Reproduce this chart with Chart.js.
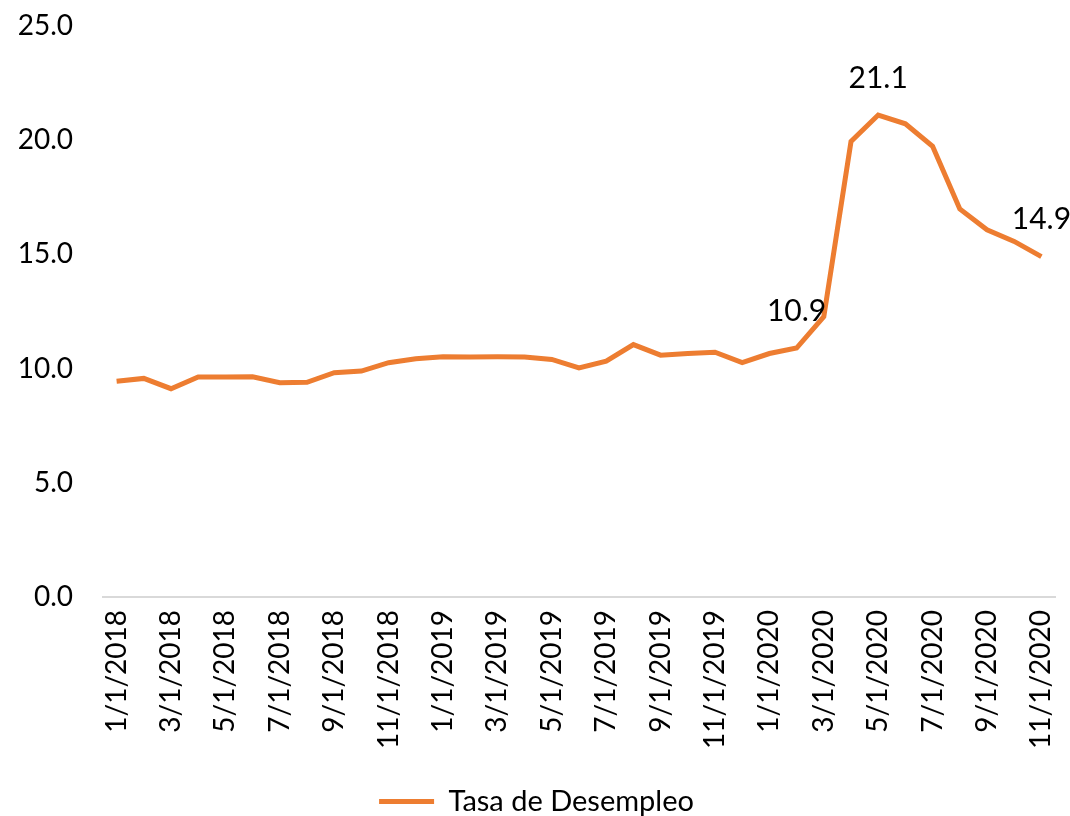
<!DOCTYPE html>
<html>
<head>
<meta charset="utf-8">
<script src="https://cdn.jsdelivr.net/npm/chart.js@4.4.0/dist/chart.umd.min.js"></script>
<style>
  html, body { margin: 0; padding: 0; background: #fff; }
  #wrap { width: 1070px; height: 816px; position: relative; }
</style>
</head>
<body>
<div id="wrap"><canvas id="chart"></canvas></div>
<script>
// monthly dates, 1/1/2018 .. 11/1/2020
const months = [
  '1/1/2018', '2/1/2018', '3/1/2018', '4/1/2018', '5/1/2018', '6/1/2018',
  '7/1/2018', '8/1/2018', '9/1/2018', '10/1/2018', '11/1/2018', '12/1/2018',
  '1/1/2019', '2/1/2019', '3/1/2019', '4/1/2019', '5/1/2019', '6/1/2019',
  '7/1/2019', '8/1/2019', '9/1/2019', '10/1/2019', '11/1/2019', '12/1/2019',
  '1/1/2020', '2/1/2020', '3/1/2020', '4/1/2020', '5/1/2020', '6/1/2020',
  '7/1/2020', '8/1/2020', '9/1/2020', '10/1/2020', '11/1/2020'
];
const desempleo = [
  9.45, 9.57, 9.12, 9.63, 9.63, 9.64, 9.38, 9.40, 9.82, 9.89, 10.26, 10.43,
  10.52, 10.51, 10.52, 10.51, 10.40, 10.03, 10.33, 11.05, 10.59, 10.66, 10.72, 10.26,
  10.66, 10.9, 12.27, 19.94, 21.1, 20.72, 19.73, 16.99, 16.08, 15.57, 14.9
];
const labeledPoints = [25, 28, 34];
const yTicks = [0, 5, 10, 15, 20, 25];

const FONT = 'Lato, "Noto Sans", sans-serif';
const ORANGE = '#ED7D31';

const pointLabels = {
  id: 'pointLabels',
  afterDatasetsDraw(chart) {
    const ctx = chart.ctx;
    const meta = chart.getDatasetMeta(0);
    ctx.save();
    ctx.font = '30px ' + FONT;
    ctx.fillStyle = '#000';
    ctx.textAlign = 'center';
    ctx.textBaseline = 'middle';
    labeledPoints.forEach(i => {
      const pt = meta.data[i];
      ctx.fillText(desempleo[i].toFixed(1), pt.x, pt.y - 37);
    });
    ctx.restore();
  }
};

new Chart(document.getElementById('chart'), {
  type: 'line',
  data: {
    labels: months,
    datasets: [{
      label: 'Tasa de Desempleo',
      data: desempleo,
      borderColor: ORANGE,
      backgroundColor: ORANGE,
      borderWidth: 5,
      pointRadius: 0,
      tension: 0,
      fill: false
    }]
  },
  options: {
    responsive: true,
    maintainAspectRatio: false,
    animation: false,
    layout: { padding: { top: 26, right: 15, left: 18, bottom: -10 } },
    plugins: {
      tooltip: { enabled: false },
      legend: {
        position: 'bottom',
        labels: {
          color: '#000',
          font: { family: FONT, size: 29 },
          boxWidth: 55,
          boxHeight: 5,
          padding: 2,
          generateLabels(chart) {
            return [{
              text: 'Tasa de Desempleo',
              fillStyle: ORANGE,
              strokeStyle: ORANGE,
              lineWidth: 0,
              datasetIndex: 0
            }];
          }
        }
      }
    },
    scales: {
      x: {
        offset: true,
        grid: { display: false, drawTicks: false },
        border: { display: true, color: '#d9d9d9', width: 2 },
        ticks: {
          autoSkip: false,
          maxRotation: 90,
          minRotation: 90,
          padding: 13,
          color: '#000',
          font: { family: FONT, size: 28 },
          callback(value, index) {
            return index % 2 === 0 ? this.getLabelForValue(value) : '';
          }
        },
        afterFit(axis) {
          axis.height = 188;
          axis.paddingLeft = 0;
          axis.paddingRight = 0;
        }
      },
      y: {
        min: 0,
        max: 25,
        afterBuildTicks(axis) { axis.ticks = yTicks.map(v => ({ value: v })); },
        grid: { display: false, drawTicks: false },
        border: { display: false },
        ticks: {
          padding: 30,
          color: '#000',
          font: { family: FONT, size: 28 },
          callback: v => v.toFixed(1)
        },
        afterFit(axis) {
          axis.width = 85;
          axis.paddingTop = 0;
          axis.paddingBottom = 0;
        }
      }
    }
  },
  plugins: [pointLabels]
});
</script>
</body>
</html>
